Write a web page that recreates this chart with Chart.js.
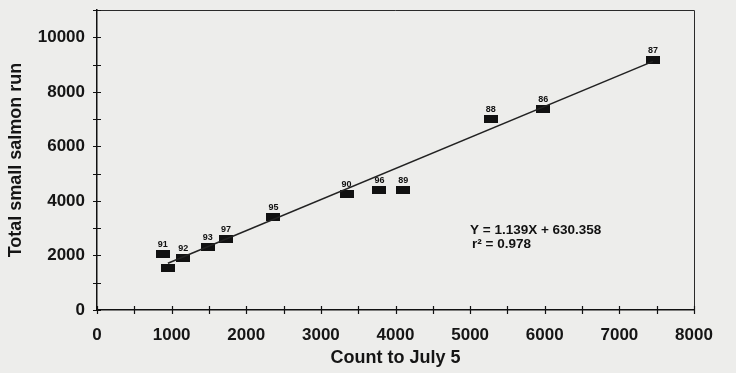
<!DOCTYPE html>
<html>
<head>
<meta charset="utf-8">
<script src="https://cdn.jsdelivr.net/npm/chart.js@4.4.1/dist/chart.umd.min.js"></script>
<style>
  html, body { margin: 0; padding: 0; background: #ededeb; }
  #wrap { width: 736px; height: 373px; }
</style>
</head>
<body>
<div id="wrap"><canvas id="salmon-chart" width="736" height="373"></canvas></div>
<script>
// values
const yearLabels = ['91', '', '92', '93', '97', '95', '90', '96', '89', '88', '86', '87'];
const countToJuly5 = [880, 950, 1155, 1485, 1730, 2365, 3345, 3785, 4105, 5275, 5980, 7450];
const totalRun = [2060, 1550, 1920, 2300, 2610, 3420, 4245, 4390, 4390, 7010, 7370, 9150];

const fitSlope = 1.139;
const fitIntercept = 630.358;
const fitText = ['Y = 1.139X + 630.358', 'r\u00B2 = 0.978'];

const fitStart = countToJuly5[1];
const fitEnd = Math.max(...countToJuly5);
const fitLine = [fitStart, fitEnd].map(x => ({ x: x, y: fitSlope * x + fitIntercept }));

const points = countToJuly5.map((x, i) => ({ x: x, y: totalRun[i] }));

// wide black box used as the point marker
const marker = document.createElement('canvas');
marker.width = 14;
marker.height = 8;
const mctx = marker.getContext('2d');
mctx.fillStyle = '#111';
mctx.fillRect(0, 0, 14, 8);

const FONT = '"Liberation Sans", Arial, sans-serif';

const pointLabels = {
  id: 'pointLabels',
  afterDatasetsDraw(chart) {
    const { ctx, scales: { x, y } } = chart;
    ctx.save();
    ctx.fillStyle = '#111';
    ctx.font = 'bold 9px ' + FONT;
    ctx.textAlign = 'center';
    ctx.textBaseline = 'bottom';
    points.forEach((p, i) => {
      if (!yearLabels[i]) return;
      ctx.fillText(yearLabels[i], x.getPixelForValue(p.x), y.getPixelForValue(p.y) - 5);
    });

    // regression text
    ctx.font = 'bold 13.5px ' + FONT;
    ctx.textAlign = 'left';
    ctx.textBaseline = 'middle';
    ctx.fillText(fitText[0], 470, 230);
    ctx.fillText(fitText[1], 472, 244);
    ctx.restore();
  }
};

// border + ticks that cross the axis lines
const frame = {
  id: 'frame',
  afterDraw(chart) {
    const { ctx, chartArea: a, scales: { x, y } } = chart;
    ctx.save();
    ctx.strokeStyle = '#2a2a2a';
    ctx.lineWidth = 1;
    ctx.beginPath();
    ctx.moveTo(a.left, a.top + 0.5);
    ctx.lineTo(a.right + 0.5, a.top + 0.5);
    ctx.lineTo(a.right + 0.5, a.bottom);
    ctx.stroke();

    ctx.strokeStyle = '#111';
    ctx.lineWidth = 1.2;
    ctx.beginPath();
    x.ticks.forEach(t => {
      const px = Math.round(x.getPixelForValue(t.value)) + 0.5;
      ctx.moveTo(px, a.bottom - 4);
      ctx.lineTo(px, a.bottom + 4);
    });
    y.ticks.forEach(t => {
      const py = Math.round(y.getPixelForValue(t.value)) + 0.5;
      ctx.moveTo(a.left - 4, py);
      ctx.lineTo(a.left + 4, py);
    });
    ctx.stroke();
    ctx.restore();
  }
};

const tickFont = { family: FONT, size: 17, weight: 'bold' };
const titleFont = { family: FONT, size: 18, weight: 'bold' };

new Chart(document.getElementById('salmon-chart').getContext('2d'), {
  type: 'scatter',
  data: {
    datasets: [
      {
        label: 'fit',
        type: 'line',
        data: fitLine,
        borderColor: '#222',
        borderWidth: 1.6,
        pointRadius: 0,
        fill: false
      },
      {
        label: 'Total small salmon run',
        data: points,
        pointStyle: marker,
        pointRadius: 7
      }
    ]
  },
  options: {
    responsive: false,
    animation: false,
    layout: { padding: { top: 10, right: 42, bottom: 4, left: 1 } },
    plugins: {
      legend: { display: false },
      tooltip: { enabled: false }
    },
    scales: {
      x: {
        type: 'linear',
        min: 0,
        max: 8000,
        afterFit: s => { s.height = 59; s.paddingLeft = 0; s.paddingRight = 0; },
        border: { color: '#111', width: 1.5 },
        grid: { display: false, drawTicks: false },
        ticks: {
          stepSize: 500,
          padding: 15,
          color: '#151515',
          font: tickFont,
          maxRotation: 0,
          autoSkip: false,
          callback: v => (v % 1000 === 0 ? v : '')
        },
        title: { display: true, text: 'Count to July 5', color: '#151515', font: titleFont, padding: { top: 0, bottom: 0 } }
      },
      y: {
        min: 0,
        max: 11000,
        afterFit: s => { s.width = 96; s.paddingTop = 0; s.paddingBottom = 0; },
        border: { color: '#111', width: 1.5 },
        grid: { display: false, drawTicks: false },
        ticks: {
          stepSize: 1000,
          padding: 12,
          color: '#151515',
          font: tickFont,
          autoSkip: false,
          callback: v => (v % 2000 === 0 ? v : '')
        },
        title: { display: true, text: 'Total small salmon run', color: '#151515', font: titleFont, padding: { top: 4, bottom: 0 } }
      }
    }
  },
  plugins: [pointLabels, frame]
});
</script>
</body>
</html>
